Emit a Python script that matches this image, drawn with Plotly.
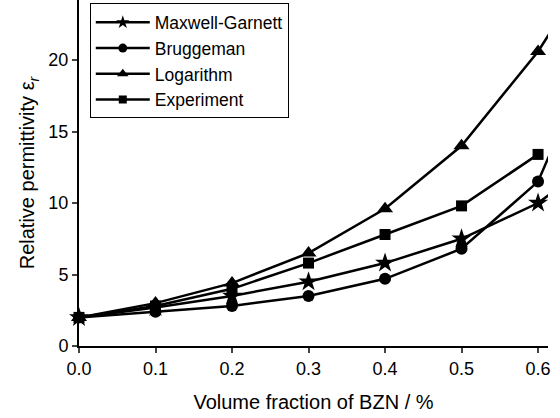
import plotly.graph_objects as go

volume_fraction = [0.0, 0.1, 0.2, 0.3, 0.4, 0.5, 0.6, 0.7]
maxwell_garnett = [2.0, 2.7, 3.5, 4.5, 5.8, 7.5, 10.0, 14.0]
bruggeman = [2.0, 2.4, 2.8, 3.5, 4.7, 6.8, 11.5, 24.0]
logarithm = [2.0, 3.0, 4.4, 6.5, 9.6, 14.0, 20.6, 29.0]
experiment_x = [0.0, 0.1, 0.2, 0.3, 0.4, 0.5, 0.6]
experiment = [2.0, 2.8, 4.0, 5.8, 7.8, 9.8, 13.4]

series = [
    ("Maxwell-Garnett", volume_fraction, maxwell_garnett, "star", 15, 10),
    ("Bruggeman", volume_fraction, bruggeman, "circle", 12, 9),
    ("Logarithm", volume_fraction, logarithm, "triangle-up", 14, 10),
    ("Experiment", experiment_x, experiment, "square", 11, 8),
]

fig = go.Figure()
for name, xs, ys, sym, size, lsize in series:
    fig.add_trace(go.Scatter(
        x=xs, y=ys, name=name, mode="lines+markers", legendgroup=name,
        showlegend=False,
        line=dict(color="black", width=2.5),
        marker=dict(symbol=sym, size=size, color="black"),
        cliponaxis=False,
    ))
for name, xs, ys, sym, size, lsize in series:
    fig.add_trace(go.Scatter(
        x=[None], y=[None], name=name, mode="lines+markers", legendgroup=name,
        showlegend=True,
        line=dict(color="black", width=2.5),
        marker=dict(symbol=sym, size=lsize, color="black"),
    ))

font = "Liberation Sans, Arial, sans-serif"
fig.update_layout(
    width=560, height=418,
    margin=dict(l=79, r=12, t=0, b=72, autoexpand=False),
    paper_bgcolor="white", plot_bgcolor="white",
    font=dict(family=font, size=18, color="black"),
    showlegend=True,
    legend=dict(
        x=0.023, y=0.99, xanchor="left", yanchor="top",
        bordercolor="black", borderwidth=1, bgcolor="white",
        font=dict(size=17.5), itemwidth=54, tracegroupgap=0,
    ),
    xaxis=dict(
        range=[0, 0.613], tickvals=[0, 0.1, 0.2, 0.3, 0.4, 0.5, 0.6],
        tickformat=".1f", ticks="outside", ticklen=5, tickwidth=2,
        tickfont=dict(size=18), automargin=False,
        showline=True, linewidth=2, linecolor="black", showgrid=False,
        zeroline=False,
        title=dict(text="Volume fraction of BZN / %", standoff=17, font=dict(size=20)),
    ),
    yaxis=dict(
        range=[0, 24.2], tickvals=[0, 5, 10, 15, 20], ticks="outside",
        ticklen=5, tickwidth=2, tickfont=dict(size=18), automargin=False,
        showline=True, linewidth=2, linecolor="black",
        showgrid=False, zeroline=False,
        title=dict(text="Relative permittivity ε<sub><i>r</i></sub>", standoff=8,
                   font=dict(size=20)),
    ),
)
fig.write_html("out.html", config={"displayModeBar": False},
               post_script="document.body.style.margin='0';")
